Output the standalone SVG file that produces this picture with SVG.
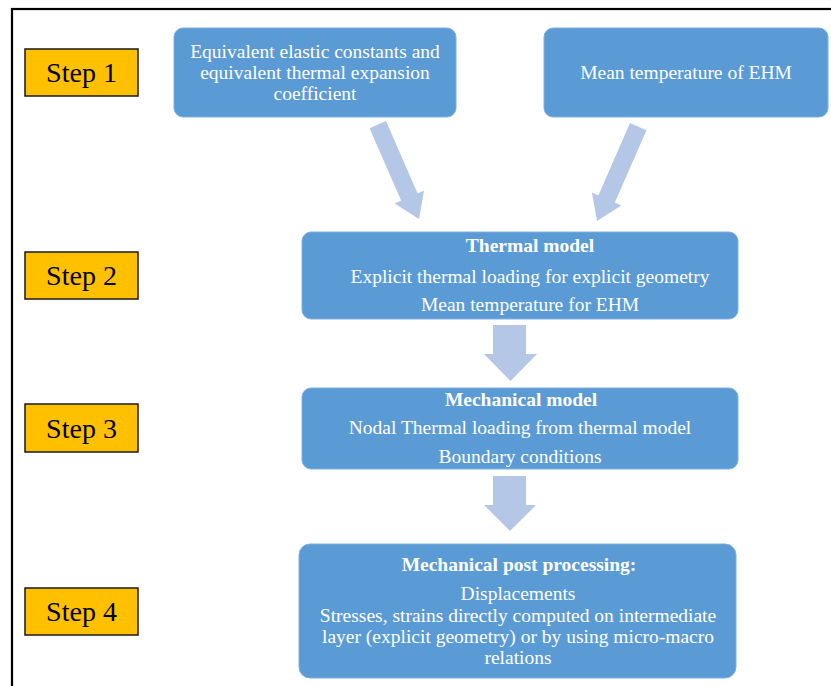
<svg xmlns="http://www.w3.org/2000/svg" width="831" height="686" viewBox="0 0 831 686">
<style>
.frame{fill:none;stroke:#000;stroke-width:2.2}
.step rect{fill:#FFC000;stroke:#1a1a1a;stroke-width:1.5}
.step text{font-family:"Liberation Serif","Times New Roman",serif;font-size:28px;fill:#000;text-anchor:middle}
.box rect{fill:#5B9BD5;stroke:#7fb0e0;stroke-width:1}
.box text{font-family:"Liberation Serif","Times New Roman",serif;font-size:19.5px;fill:#fff;text-anchor:middle}
.box text.b{font-weight:bold}
.arr{fill:#B4C7E7}
</style>
<rect class="frame" x="12" y="9" width="840" height="700"/>
<g id="step1" class="step"><rect x="25" y="49" width="113" height="47"/><text x="81.5" y="82">Step 1</text></g>
<g id="step2" class="step"><rect x="25" y="252" width="113" height="47"/><text x="81.5" y="285">Step 2</text></g>
<g id="step3" class="step"><rect x="25" y="404" width="113" height="48"/><text x="81.5" y="438">Step 3</text></g>
<g id="step4" class="step"><rect x="25" y="588" width="113" height="47"/><text x="81.5" y="621">Step 4</text></g>
<g id="equiv" class="box"><rect x="174" y="28" width="282" height="89" rx="9"/>
<text x="315" y="58">Equivalent elastic constants and</text>
<text x="315" y="79">equivalent thermal expansion</text>
<text x="315" y="100">coefficient</text></g>
<g id="meantemp" class="box"><rect x="544" y="28" width="284" height="89" rx="9"/>
<text x="686" y="79">Mean temperature of EHM</text></g>
<g id="thermal" class="box"><rect x="302" y="232" width="436" height="87" rx="9"/>
<text class="b" x="530" y="252">Thermal model</text>
<text x="530" y="283">Explicit thermal loading for explicit geometry</text>
<text x="530" y="311">Mean temperature for EHM</text></g>
<g id="mechanical" class="box"><rect x="302" y="388" width="436" height="81" rx="9"/>
<text class="b" x="521" y="406">Mechanical model</text>
<text x="520" y="434">Nodal Thermal loading from thermal model</text>
<text x="520" y="463">Boundary conditions</text></g>
<g id="post" class="box"><rect x="299" y="544" width="437" height="134" rx="11"/>
<text class="b" x="519" y="571">Mechanical post processing:</text>
<text x="518" y="600">Displacements</text>
<text x="518" y="622">Stresses, strains directly computed on intermediate</text>
<text x="518" y="643">layer (explicit geometry) or by using micro-macro</text>
<text x="518" y="664">relations</text></g>
<g id="connectors">
<path class="arr" transform="translate(419,219) rotate(-23.6)" d="M-9,-103 H9 V-24 H16 L0,0 L-16,-24 H-9 Z"/>
<path class="arr" transform="translate(597,221) rotate(23.6)" d="M-9,-103 H9 V-24 H16 L0,0 L-16,-24 H-9 Z"/>
<path class="arr" d="M493,325 H526 V354 H537 L510.5,381 L484,354 H493 Z"/>
<path class="arr" d="M493,476 H526 V505 H536 L510,531 L484,505 H493 Z"/>
</g>
</svg>
